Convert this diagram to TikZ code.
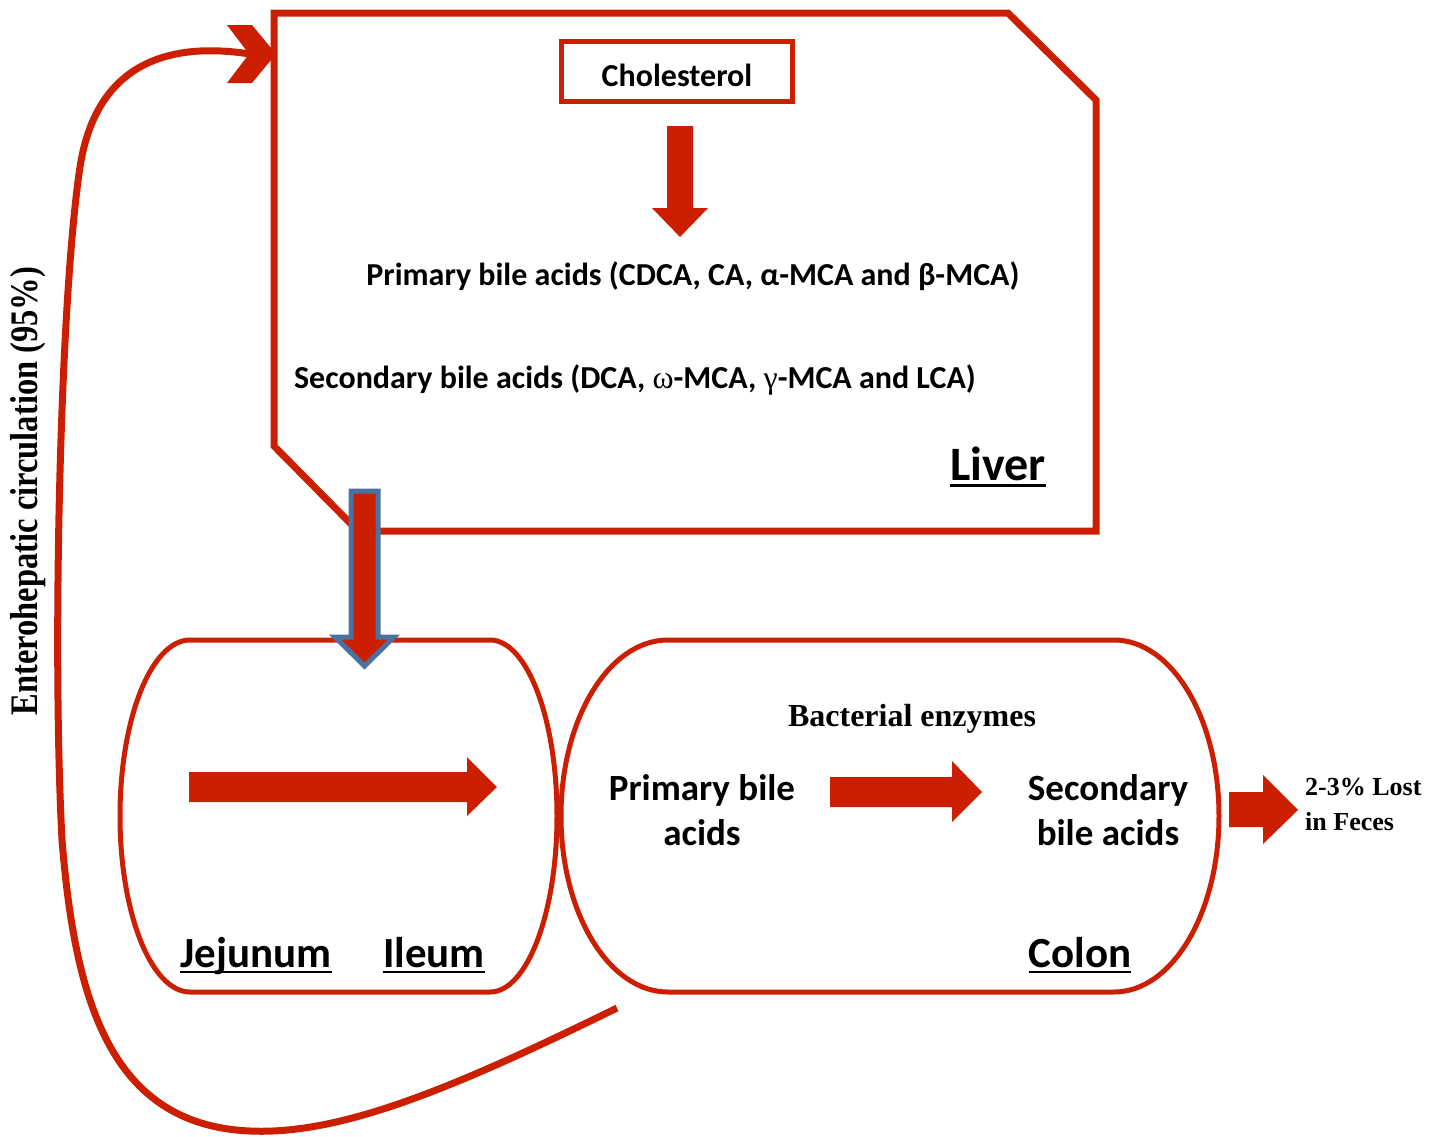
\documentclass[tikz,border=0pt]{standalone}
\usepackage{fontspec}
\usepackage{graphicx}
\setmainfont{Liberation Serif}
\newfontfamily\calfont{Carlito}
\definecolor{bred}{RGB}{204,30,0}
\definecolor{bblue}{RGB}{74,114,160}
\newcommand\ulbar[1]{\setbox0=\hbox{#1}\rlap{\vrule width\wd0 height -0.09em depth 0.14em}\box0}
\begin{document}
\begin{tikzpicture}[x=1pt,y=-1pt,line join=miter,
  organ/.style={draw=bred,line width=7pt},
  gut/.style={draw=bred,line width=5pt},
  blockarrow/.style={fill=bred,draw=none},
  lbl/.style={font=\calfont\bfseries\fontsize{32}{38}\selectfont,inner sep=0pt,anchor=base},
  biglbl/.style={font=\calfont\bfseries\fontsize{43}{50}\selectfont,inner sep=0pt,anchor=base},
  twolbl/.style={font=\calfont\bfseries\fontsize{37}{45}\selectfont,inner sep=0pt,anchor=base,align=center},
  serif/.style={font=\bfseries\fontsize{32}{38}\selectfont,inner sep=0pt,anchor=base}]
\useasboundingbox (0,0) rectangle (1441,1136);
% liver
\draw[organ] (274,13) -- (1008,13) -- (1096,100) -- (1096,531) -- (358,531) -- (274,446) -- cycle;
% cholesterol box
\draw[gut] (561.5,41) rectangle (792.5,101);
\node[lbl] (chol) at (677,86) {Cholesterol};
\fill[blockarrow] (667,126) -- (693,126) -- (693,208) -- (708,208) -- (680,237) -- (652,208) -- (667,208) -- cycle;
\node[lbl] (pbaL) at (693,285) {Primary bile acids (CDCA, CA, α-MCA and β-MCA)};
\node[lbl] (sbaL) at (635,388) {Secondary bile acids (DCA, {\normalfont ω}-MCA, {\normalfont γ}-MCA and LCA)};
\node[biglbl,font=\calfont\bfseries\fontsize{48}{56}\selectfont] (liver) at (998,480) {\ulbar{Liver}};
% small intestine
\draw[gut] (190,640) -- (490,640) arc[start angle=-90,end angle=90,x radius=67,y radius=176] -- (190,992) arc[start angle=90,end angle=270,x radius=70,y radius=176] -- cycle;
\fill[blockarrow] (189,772) -- (467,772) -- (467,757) -- (497,787) -- (467,816) -- (467,802) -- (189,802) -- cycle;
\node[biglbl] (jej) at (256,967) {\ulbar{Jejunum}};
\node[biglbl] (ile) at (434,967) {\ulbar{Ileum}};
% colon
\draw[gut] (668,640) -- (1114,640) arc[start angle=-90,end angle=90,x radius=105,y radius=176] -- (668,992) arc[start angle=90,end angle=270,x radius=107,y radius=176] -- cycle;
\node[serif] (bact) at (912,726) {Bacterial enzymes};
\node[twolbl] (pbaC) at (702,845) {Primary bile\\acids};
\fill[blockarrow] (830,777) -- (952,777) -- (952,761) -- (982,792) -- (952,822) -- (952,807) -- (830,807) -- cycle;
\node[twolbl] (sbaC) at (1108,845) {Secondary\\bile acids};
\node[biglbl] (colon) at (1080,967) {\ulbar{Colon}};
% feces
\fill[blockarrow] (1229,792) -- (1263,792) -- (1263,775) -- (1298,810) -- (1263,844) -- (1263,827) -- (1229,827) -- cycle;
\node[serif,font=\bfseries\fontsize{26}{35}\selectfont,align=left,anchor=base west] (feces) at (1305,830) {2-3\% Lost\\in Feces};
% blue arrow liver -> intestine
\draw[draw=bblue,fill=bred,line width=5pt] (351,491) -- (378,491) -- (378,637) -- (394,637) -- (364.5,666) -- (335,637) -- (351,637) -- cycle;
% enterohepatic circulation
\coordinate (cstart) at (617,1008);
\coordinate (cend) at (250,54);
\draw[bred,line width=7pt] (cstart) .. controls (450,1090) and (340,1135) .. (250,1131) .. controls (110,1125) and (75,1000) .. (62,840) .. controls (52,650) and (60,300) .. (80,167) .. controls (95,70) and (160,40) .. (cend);
\fill[blockarrow] (227,25) -- (252,25) -- (276,54) -- (252,83) -- (227,83) -- (249,54) -- cycle;
\node[serif,font=\bfseries\fontsize{32.5}{38}\selectfont,rotate=90] (ehc) at (37,491) {\scalebox{1}[1.2]{Enterohepatic circulation (95\%)}};
\end{tikzpicture}
\end{document}
